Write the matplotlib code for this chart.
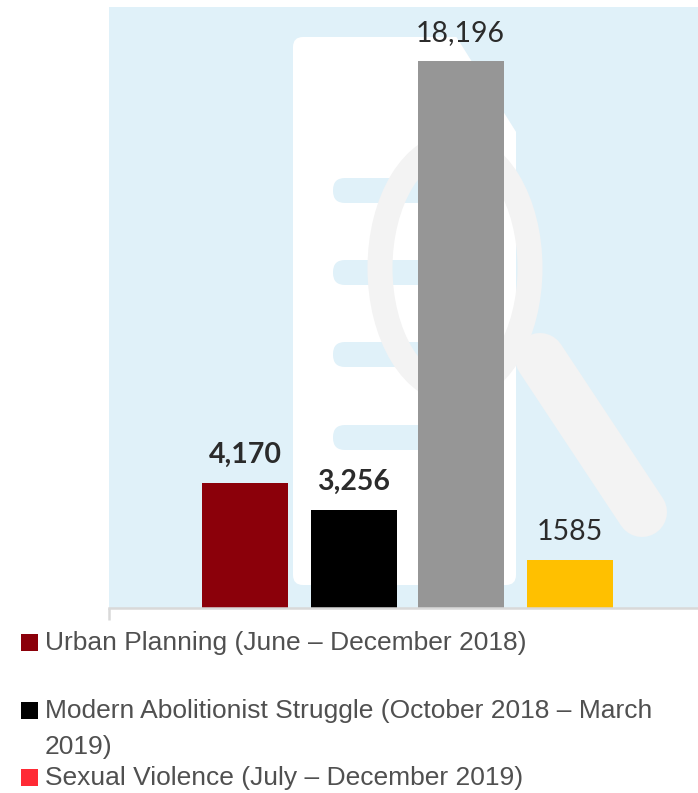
import matplotlib
matplotlib.use('Agg')
import matplotlib.pyplot as plt
from matplotlib.patches import FancyBboxPatch, Ellipse, Polygon, Rectangle

# Reading counts per reading list
positions = [0, 1.005, 1.992, 3]
counts = [4170, 3256, 18196, 1585]
count_labels = ['4,170', '3,256', '18,196', '1585']
label_bold = [True, True, False, False]
bar_colors = ['#8b000a', '#000000', '#969696', '#ffc000']

legend_lines = [
    'Urban Planning (June \u2013 December 2018)',
    'Modern Abolitionist Struggle (October 2018 \u2013 March',
    '2019)',
    'Sexual Violence (July \u2013 December 2019)',
]
legend_colors = ['#8b000a', '#000000', None, '#ff2a35']
legend_y = [642, 710, 746, 777]

W, H = 698, 793
BLUE = '#e0f1f9'
PALE = '#f3f3f3'

fig = plt.figure(figsize=(W / 100, H / 100), dpi=100)

# Full-figure layer in pixel units for the backdrop artwork and the key
bg = fig.add_axes([0, 0, 1, 1], zorder=0)
bg.set_xlim(0, W)
bg.set_ylim(H, 0)
bg.axis('off')

bg.add_patch(Rectangle((109, 7), 589, 601, fc=BLUE, ec='none'))

# document icon
bg.add_patch(FancyBboxPatch((301, 45), 207, 532, boxstyle='round,pad=8,rounding_size=10',
                            fc='white', ec='none'))
bg.add_patch(Polygon([(452, 30), (530, 30), (530, 152), (518, 135)], fc=BLUE, ec='none'))
for y in [178, 260, 342, 425]:
    bg.add_patch(FancyBboxPatch((341, y + 8), 154, 9, boxstyle='round,pad=8,rounding_size=12',
                                fc=BLUE, ec='none'))

# magnifying glass
bg.add_patch(Ellipse((455, 268), 150, 246, fc='none', ec=PALE, lw=18))
bg.plot([540, 642], [358, 512], color=PALE, lw=36, solid_capstyle='round')

# Key below the chart
for text, color, y in zip(legend_lines, legend_colors, legend_y):
    if color is not None:
        bg.add_patch(Rectangle((21, y - 8), 17, 17, fc=color, ec='none'))
    bg.text(45, y + 1, text, family='Liberation Sans', fontsize=19, color='#505050',
            va='center', ha='left')

# Bars
ax = fig.add_axes([109 / W, (H - 608) / H, 589 / W, 601 / H], zorder=1)
ax.patch.set_alpha(0)
ax.bar(positions, counts, width=0.794, color=bar_colors)
ax.set_xlim(-1.255, 4.183)
ax.set_ylim(0, 20000)

for x, v, s, b in zip(positions, counts, count_labels, label_bold):
    ax.annotate(s, (x, v), xytext=(0, 11), textcoords='offset points', ha='center', va='bottom',
                family='Lato', fontsize=20.5, color='#2b2b2b',
                fontweight='bold' if b else 'normal')

for side in ['top', 'right', 'left']:
    ax.spines[side].set_visible(False)
ax.spines['bottom'].set_color('#d9d9d9')
ax.spines['bottom'].set_linewidth(1.8)
ax.set_yticks([])
ax.set_xticks([])

# short end tick at the left of the axis line
bg.plot([109, 109], [608, 620], color='#d9d9d9', lw=1.8, solid_capstyle='butt')

fig.savefig('out.png', dpi=100)
